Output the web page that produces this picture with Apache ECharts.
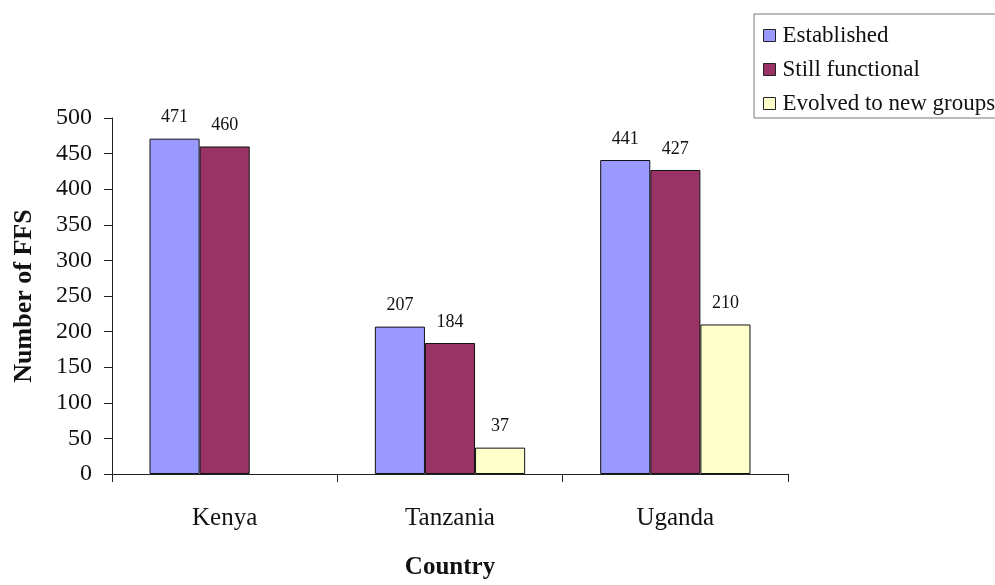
<!DOCTYPE html>
<html>
<head>
<meta charset="utf-8">
<script src="https://cdn.jsdelivr.net/npm/echarts@6/dist/echarts.min.js"></script>
<style>
  html, body { margin: 0; padding: 0; background: #fff; overflow: hidden; }
  #chart { width: 995px; height: 585px; }
</style>
</head>
<body>
<div id="chart"></div>
<script>
// Farmer field schools per country
const countries = ['Kenya', 'Tanzania', 'Uganda'];
const established = [471, 207, 441];
const stillFunctional = [460, 184, 427];
const evolvedToNewGroups = [null, 37, 210];
const yTicks = { min: 0, max: 500, interval: 50 };

const serif = '"Liberation Serif", "DejaVu Serif", serif';

function barSeries(name, data, color) {
  return {
    name: name,
    type: 'bar',
    data: data,
    barGap: '0%',
    barCategoryGap: '33.3%',
    itemStyle: { color: color, borderColor: '#111', borderWidth: 1 },
    label: {
      show: true,
      position: 'top',
      distance: 12,
      fontFamily: serif,
      fontSize: 18,
      color: '#111'
    }
  };
}

const chart = echarts.init(document.getElementById('chart'), null, { renderer: 'canvas' });
chart.setOption({
  animation: false,
  backgroundColor: '#fff',
  grid: { left: 112, top: 118, right: 207, bottom: 106, containLabel: false },
  legend: {
    orient: 'vertical',
    left: 754,
    top: 14,
    itemWidth: 12,
    itemHeight: 12,
    itemGap: 11,
    padding: [10, 14, 3, 9],
    backgroundColor: '#fff',
    borderColor: '#777',
    borderWidth: 1,
    icon: 'rect',
    textStyle: { fontFamily: serif, fontSize: 23, color: '#111', padding: [0, 0, 0, 2] },
    itemStyle: { borderColor: '#222', borderWidth: 1 }
  },
  xAxis: {
    type: 'category',
    data: countries,
    name: 'Country',
    nameLocation: 'middle',
    nameGap: 81,
    nameTextStyle: { fontFamily: serif, fontSize: 25, fontWeight: 'bold', color: '#111' },
    axisLine: { lineStyle: { color: '#222', width: 1 } },
    axisTick: { show: true, length: 8, alignWithLabel: false, lineStyle: { color: '#222' } },
    axisLabel: { margin: 32, fontFamily: serif, fontSize: 25, color: '#111' }
  },
  yAxis: {
    type: 'value',
    min: yTicks.min,
    max: yTicks.max,
    interval: yTicks.interval,
    name: 'Number of FFS',
    nameLocation: 'middle',
    nameRotate: 90,
    nameGap: 75,
    nameTextStyle: { fontFamily: serif, fontSize: 26, fontWeight: 'bold', color: '#111' },
    splitLine: { show: false },
    axisLine: { show: true, lineStyle: { color: '#222', width: 1 } },
    axisTick: { show: true, length: 8, lineStyle: { color: '#222' } },
    axisLabel: { margin: 20, fontFamily: serif, fontSize: 24, color: '#111' }
  },
  series: [
    barSeries('Established', established, '#9999FF'),
    barSeries('Still functional', stillFunctional, '#993366'),
    barSeries('Evolved to new groups', evolvedToNewGroups, '#FFFFCC')
  ]
});
</script>
</body>
</html>
